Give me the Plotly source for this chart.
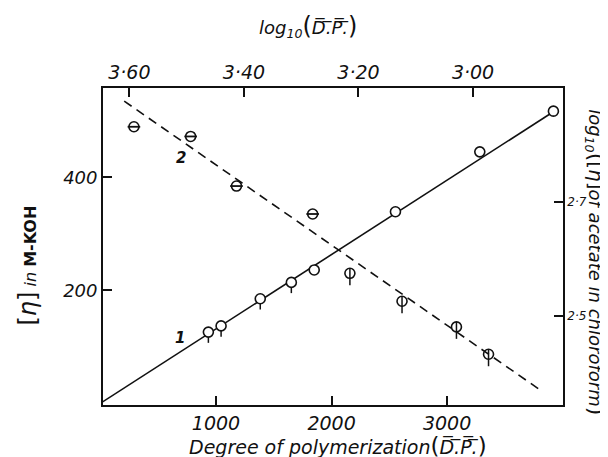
import plotly.graph_objects as go

# Series 1: [eta] in M-KOH vs degree of polymerization (bottom / left axes)
dp_values = [934, 1044, 1383, 1652, 1850, 2553, 3283, 3920]
eta_koh = [126, 137, 185, 214, 236, 339, 445, 517]
fit1_x = [0, 3950]
fit1_y = [0, 520]

# Series 2: log10[eta] of acetate in chloroform vs log10(D.P.) (top / right axes)
log_dp = [3.592, 3.493, 3.413, 3.280, 3.215, 3.124, 3.029, 2.973]
log_eta_acetate = [2.832, 2.815, 2.728, 2.679, 2.575, 2.526, 2.481, 2.433]
fit2_x = [3.609, 2.878]
fit2_y = [2.877, 2.367]

bottom_ticks = [1000, 2000, 3000]
bottom_tick_text = ["1000", "2000", "3000"]
left_ticks = [200, 400]
left_tick_text = ["200", "400"]
top_ticks = [3.60, 3.40, 3.20, 3.00]
top_tick_text = ["3·60", "3·40", "3·20", "3·00"]
right_ticks = [2.5, 2.7]
right_tick_text = ["2·5", "2·7"]

FONT = "DejaVu Sans"
BLACK = "#111111"


def ital(labels):
    return ["<i>" + t + "</i>" for t in labels]


fig = go.Figure()

# fitted line 1 (solid)
fig.add_trace(go.Scatter(x=fit1_x, y=fit1_y, mode="lines",
                         line=dict(color=BLACK, width=1.6), xaxis="x", yaxis="y",
                         showlegend=False, hoverinfo="skip"))
# fitted line 2 (dashed)
fig.add_trace(go.Scatter(x=fit2_x, y=fit2_y, mode="lines",
                         line=dict(color=BLACK, width=1.6, dash="9px,6px"),
                         xaxis="x2", yaxis="y2", showlegend=False, hoverinfo="skip"))

# series 1 points with small tails below the first few
tail1 = [19 if i < 4 else 0 for i in range(len(dp_values))]
fig.add_trace(go.Scatter(x=dp_values, y=eta_koh, mode="markers",
                         marker=dict(symbol="circle", size=10, color="white",
                                     line=dict(color=BLACK, width=1.6)),
                         error_y=dict(type="data", symmetric=False, array=[0]*len(tail1),
                                      arrayminus=tail1, color=BLACK, thickness=1.5, width=0),
                         xaxis="x", yaxis="y", showlegend=False))

# series 2 points: theta-style for first four, phi-style for the rest
n2 = len(log_dp)
up2 = [0 if i < 4 else 0.009 for i in range(n2)]
down2 = [0 if i < 4 else 0.021 for i in range(n2)]
fig.add_trace(go.Scatter(x=log_dp, y=log_eta_acetate, mode="markers",
                         marker=dict(symbol="circle-open", size=10, color=BLACK,
                                     line=dict(color=BLACK, width=1.6)),
                         error_y=dict(type="data", symmetric=False, array=up2,
                                      arrayminus=down2, color=BLACK, thickness=1.5, width=0),
                         xaxis="x2", yaxis="y2", showlegend=False))
fig.add_trace(go.Scatter(x=log_dp[:4], y=log_eta_acetate[:4], mode="markers",
                         marker=dict(symbol="line-ew", size=9,
                                     line=dict(color=BLACK, width=1.8)),
                         xaxis="x2", yaxis="y2", showlegend=False, hoverinfo="skip"))

axis_common = dict(showline=True, linecolor=BLACK, linewidth=1.8, ticks="inside",
                   ticklen=9, tickwidth=1.6, tickcolor=BLACK, showgrid=False,
                   zeroline=False, mirror=False)

fig.update_layout(
    width=608, height=457, autosize=False,
    margin=dict(l=95, r=53, t=80, b=60),
    paper_bgcolor="white", plot_bgcolor="white",
    font=dict(family=FONT, color=BLACK),
    xaxis=dict(range=[22, 4003], tickvals=bottom_ticks, ticktext=ital(bottom_tick_text),
               side="bottom", tickfont=dict(family=FONT, size=19), **axis_common),
    xaxis2=dict(range=[3.646, 2.843], tickvals=top_ticks, ticktext=ital(top_tick_text),
                overlaying="x", side="top", anchor="y",
                tickfont=dict(family=FONT, size=19), **axis_common),
    yaxis=dict(range=[-3, 558], tickvals=left_ticks, ticktext=ital(left_tick_text),
               side="left", tickfont=dict(family=FONT, size=18), **axis_common),
    yaxis2=dict(range=[2.344, 2.900], tickvals=right_ticks, ticktext=ital(right_tick_text),
                overlaying="y", side="right", anchor="x",
                tickfont=dict(family=FONT, size=12), **axis_common),
)

ov = "\u0305"
dp_over = "D" + ov + "." + ov + "P" + ov + "." + ov
ann = [
    dict(x=0.446, y=1.195, text="<i>log<sub>10</sub></i><span style='font-size:24px'>(</span><i>" + dp_over + "</i><span style='font-size:24px'>)</span>",
         font=dict(size=18)),
    dict(x=0.511, y=-0.13, text="<i>Degree of polymerization</i><span style='font-size:23px'>(</span><i>" + dp_over + "</i><span style='font-size:23px'>)</span>",
         font=dict(size=19)),
    dict(x=-0.165, y=0.44, textangle=-90,
         text="<span style='font-size:24px'>[<i>η</i>]</span> <i>in</i> <b>M-KOH</b>",
         font=dict(size=16)),
    dict(x=1.07, y=0.45, textangle=90,
         text="<i>log<sub>10</sub></i><span style='font-size:22px'>(</span><span style='font-size:20px'>[<i>η</i>]</span><i>of acetate in chloroform</i><span style='font-size:22px'>)</span>",
         font=dict(size=18)),
]
for a in ann:
    fig.add_annotation(xref="paper", yref="paper", showarrow=False,
                       xanchor="center", yanchor="middle", **a)

# curve labels
fig.add_annotation(x=689, y=116, xref="x", yref="y", text="<b><i>1</i></b>",
                   showarrow=False, font=dict(size=15))
fig.add_annotation(x=698, y=434, xref="x", yref="y", text="<b><i>2</i></b>",
                   showarrow=False, font=dict(size=15))

fig.write_html("out.html")
